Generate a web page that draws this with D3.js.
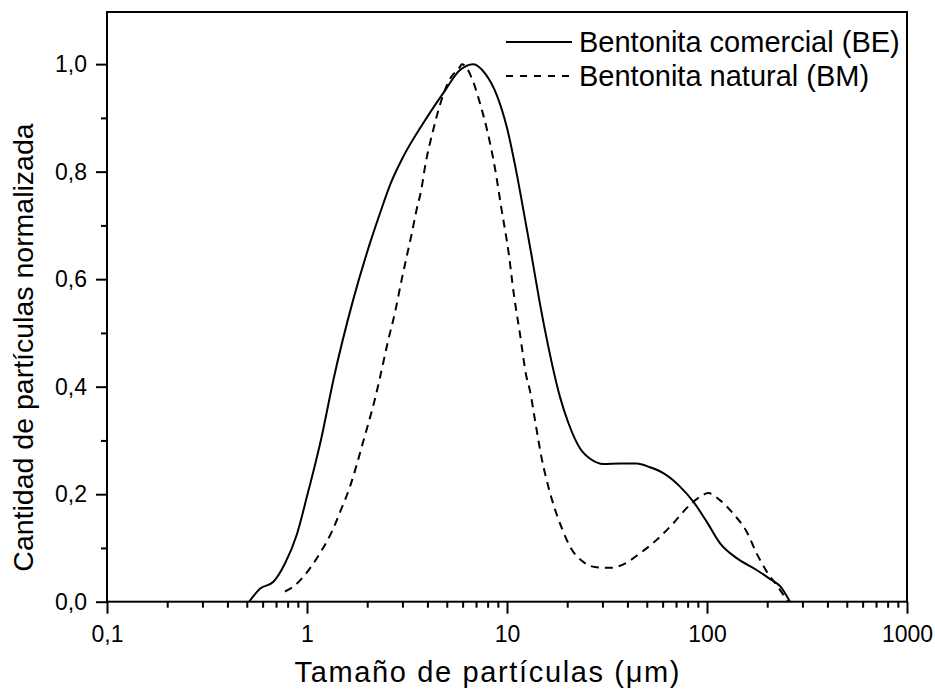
<!DOCTYPE html>
<html>
<head>
<meta charset="utf-8">
<script src="https://cdn.jsdelivr.net/npm/d3@7"></script>
<style>
  html, body { margin: 0; padding: 0; background: #fff; }
  svg { display: block; font-family: "Liberation Sans", Arial, sans-serif; }
</style>
</head>
<body>
<svg id="chart" width="935" height="690"></svg>
<script>
// ---- Data ----
const seriesNames = ["Bentonita comercial (BE)", "Bentonita natural (BM)"];

const beSize = [0.514, 0.582, 0.679, 0.776, 0.888, 1.0, 1.184, 1.354, 1.70, 2.065, 2.32, 2.60, 3.03, 3.81, 4.80, 5.82, 6.78, 7.76, 8.88, 9.96, 11.2, 12.07, 13.3, 14.6, 16.1, 18.4, 20.3, 23.2, 26.5, 30.3, 36.7, 44.5, 51.9, 60.5, 73.3, 85.4, 99.6, 116, 140.7, 177, 207, 232, 260];
const beValue = [0.0, 0.024, 0.037, 0.071, 0.124, 0.196, 0.307, 0.412, 0.561, 0.667, 0.723, 0.775, 0.828, 0.890, 0.946, 0.989, 1.0, 0.983, 0.943, 0.884, 0.795, 0.729, 0.642, 0.555, 0.474, 0.381, 0.332, 0.285, 0.264, 0.256, 0.257, 0.257, 0.250, 0.239, 0.214, 0.186, 0.149, 0.109, 0.081, 0.059, 0.042, 0.029, 0.0];

const bmSize = [0.776, 0.854, 0.977, 1.16, 1.33, 1.49, 1.64, 1.77, 1.91, 2.05, 2.19, 2.30, 2.55, 2.75, 2.97, 3.15, 3.34, 3.53, 3.74, 3.89, 4.28, 4.62, 5.09, 5.82, 5.95, 6.78, 7.33, 7.91, 8.71, 9.40, 10.2, 10.8, 11.6, 12.5, 13.0, 13.8, 14.9, 16.1, 17.4, 18.8, 20.7, 24.1, 28.1, 32.7, 38.9, 46.2, 56.0, 67.9, 79.1, 92.2, 101.6, 116, 135, 158, 177, 199, 223, 254];
const bmValue = [0.019, 0.028, 0.050, 0.090, 0.130, 0.174, 0.214, 0.254, 0.298, 0.338, 0.378, 0.412, 0.487, 0.537, 0.598, 0.642, 0.685, 0.729, 0.769, 0.809, 0.878, 0.924, 0.967, 0.995, 1.0, 0.967, 0.927, 0.881, 0.806, 0.729, 0.648, 0.574, 0.499, 0.419, 0.394, 0.338, 0.267, 0.214, 0.171, 0.137, 0.102, 0.074, 0.064, 0.063, 0.071, 0.090, 0.115, 0.146, 0.174, 0.195, 0.202, 0.189, 0.164, 0.130, 0.090, 0.056, 0.031, 0.0];

const xTickValues = [0.1, 1, 10, 100, 1000];
const xTickLabels = ["0,1", "1", "10", "100", "1000"];
const yTickValues = [0.0, 0.2, 0.4, 0.6, 0.8, 1.0];
const yTickLabels = ["0,0", "0,2", "0,4", "0,6", "0,8", "1,0"];
const yMinorValues = [0.1, 0.3, 0.5, 0.7, 0.9];

const xTitle = "Tamaño de partículas (μm)";
const yTitle = "Cantidad de partículas normalizada";

(function () {
// ---- Layout ----
const pLeft = 107, pRight = 907, pTop = 12, pBottom = 601.7;
const svg = d3.select("#chart");

const x = d3.scaleLog().domain([0.1, 1000]).range([pLeft, pRight]);
const y = d3.scaleLinear().domain([0, 1.097]).range([pBottom, pTop]);

// minor x ticks
const xMinor = [];
for (let e = -1; e < 3; e++) {
  for (let k = 2; k <= 9; k++) xMinor.push(k * Math.pow(10, e));
}

const axisFont = 23;

// X minor
svg.append("g").attr("transform", `translate(0,${pBottom})`)
  .call(d3.axisBottom(x).tickValues(xMinor).tickSize(6).tickFormat(""))
  .call(g => g.select(".domain").remove())
  .call(g => g.selectAll("line").attr("stroke", "#000").attr("stroke-width", 2));

// X major
svg.append("g").attr("transform", `translate(0,${pBottom})`)
  .call(d3.axisBottom(x).tickValues(xTickValues).tickSize(12).tickPadding(12)
        .tickFormat((d, i) => xTickLabels[i]))
  .call(g => g.select(".domain").remove())
  .call(g => g.selectAll("line").attr("stroke", "#000").attr("stroke-width", 2))
  .call(g => g.selectAll("text").attr("font-size", axisFont).attr("fill", "#000")
        .attr("font-family", "Liberation Sans, Arial, sans-serif"));

// Y minor
svg.append("g").attr("transform", `translate(${pLeft},0)`)
  .call(d3.axisLeft(y).tickValues(yMinorValues).tickSize(6).tickFormat(""))
  .call(g => g.select(".domain").remove())
  .call(g => g.selectAll("line").attr("stroke", "#000").attr("stroke-width", 2));

// Y major
svg.append("g").attr("transform", `translate(${pLeft},0)`)
  .call(d3.axisLeft(y).tickValues(yTickValues).tickSize(11).tickPadding(9)
        .tickFormat((d, i) => yTickLabels[i]))
  .call(g => g.select(".domain").remove())
  .call(g => g.selectAll("line").attr("stroke", "#000").attr("stroke-width", 2))
  .call(g => g.selectAll("text").attr("font-size", axisFont).attr("fill", "#000")
        .attr("font-family", "Liberation Sans, Arial, sans-serif"));

// Frame
svg.append("rect")
  .attr("x", pLeft).attr("y", pTop)
  .attr("width", pRight - pLeft).attr("height", pBottom - pTop)
  .attr("fill", "none").attr("stroke", "#000").attr("stroke-width", 2);

// Lines
const line = d3.line().x(d => x(d[0])).y(d => y(d[1])).curve(d3.curveMonotoneX);
const beData = beSize.map((s, i) => [s, beValue[i]]);
const bmData = bmSize.map((s, i) => [s, bmValue[i]]);

svg.append("path").datum(beData)
  .attr("d", line).attr("fill", "none").attr("stroke", "#000")
  .attr("stroke-width", 2).attr("stroke-linejoin", "round");

svg.append("path").datum(bmData)
  .attr("d", line).attr("fill", "none").attr("stroke", "#000")
  .attr("stroke-width", 2).attr("stroke-dasharray", "8,6");

// Legend
const legend = svg.append("g");
const legY = [42, 76];
const dashes = [null, "7,7"];
seriesNames.forEach((name, i) => {
  legend.append("line")
    .attr("x1", 506).attr("x2", 572).attr("y1", legY[i]).attr("y2", legY[i])
    .attr("stroke", "#000").attr("stroke-width", 2)
    .attr("stroke-dasharray", dashes[i]);
  legend.append("text")
    .attr("x", 579).attr("y", legY[i] + 9.5)
    .attr("font-size", 29).attr("fill", "#000")
    .text(name);
});

// Axis titles
svg.append("text")
  .attr("x", 487).attr("y", 682)
  .attr("text-anchor", "middle").attr("font-size", 29).attr("fill", "#000")
  .attr("textLength", 385).attr("lengthAdjust", "spacing")
  .text(xTitle);

svg.append("text")
  .attr("transform", `translate(33,347.5) rotate(-90)`)
  .attr("text-anchor", "middle").attr("font-size", 28.5).attr("fill", "#000")
  .text(yTitle);
})();
</script>
</body>
</html>
